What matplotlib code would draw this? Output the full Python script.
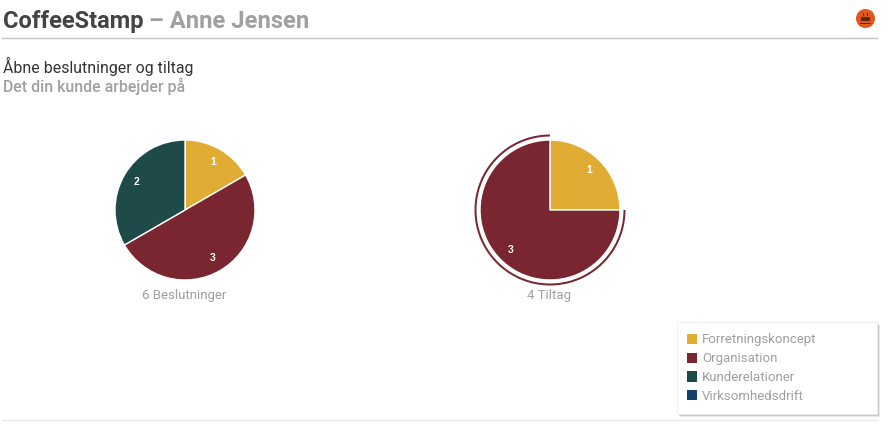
import math
import matplotlib
matplotlib.use("Agg")
import matplotlib.pyplot as plt
from matplotlib.patches import Rectangle, Circle, Wedge
from matplotlib.lines import Line2D

W, H = 888, 426
FONT = "Roboto"
plt.rcParams["font.family"] = [FONT, "DejaVu Sans"]

categories = ["Forretningskoncept", "Organisation", "Kunderelationer", "Virksomhedsdrift"]
colors = ["#E0AC33", "#7A2630", "#1E4A4A", "#17406F"]

left_values = [1, 3, 2]
left_colors = [colors[0], colors[1], colors[2]]
left_caption = "6 Beslutninger"

right_values = [1, 3]
right_colors = [colors[0], colors[1]]
right_caption = "4 Tiltag"

title_dark = "CoffeeStamp"
title_grey = " – Anne Jensen"
subtitle = "Åbne beslutninger og tiltag"
subtitle2 = "Det din kunde arbejder på"

DARK = "#444444"
GREY = "#A0A0A0"

fig = plt.figure(figsize=(W / 100, H / 100), dpi=100, facecolor="white")

bg = fig.add_axes([0, 0, 1, 1])
bg.set_xlim(0, W)
bg.set_ylim(H, 0)
bg.axis("off")

# header
t1 = bg.text(3, 21.5, title_dark, fontsize=17, fontweight="bold", color=DARK, va="center", ha="left")
fig.canvas.draw()
bb = t1.get_window_extent()
bg.text(bb.x1 - 1, 21.5, title_grey, fontsize=17.1, fontweight="bold", color=GREY, va="center", ha="left")
bg.add_line(Line2D([2, 877], [38, 38], color="#C4C4C4", lw=1))
bg.add_line(Line2D([2, 877], [420, 420], color="#E8E8E8", lw=1))
bg.text(3, 66, subtitle, fontsize=11.4, color="#333333", va="center", ha="left")
bg.text(3, 86, subtitle2, fontsize=11.4, fontweight="medium", color=GREY, va="center", ha="left")

# icon
bg.add_patch(Circle((865.5, 18.5), 9.5, fc="#E0581C", ec="none"))
bg.add_patch(Rectangle((861, 17), 9, 4, fc="#5A2A14", ec="none"))
bg.add_patch(Rectangle((860, 23), 11, 1.2, fc="#5A2A14", ec="none"))
bg.add_patch(Rectangle((863, 12.5), 1, 3, fc="#5A2A14", ec="none"))
bg.add_patch(Rectangle((867, 12.5), 1, 3, fc="#5A2A14", ec="none"))


def draw_pie(cx, cy, values, cols):
    r = 70.0
    box = 2.5 * r
    ax = fig.add_axes([(cx - box / 2) / W, 1 - (cy + box / 2) / H, box / W, box / H])
    ax.patch.set_alpha(0)
    wedges, _ = ax.pie(values, colors=cols, startangle=90, counterclock=False,
                       wedgeprops=dict(edgecolor="white", linewidth=1))
    ax.set_xlim(-1.25, 1.25)
    ax.set_ylim(-1.25, 1.25)
    return ax, wedges


def labels(ax, wedges, values, dist):
    for w, v in zip(wedges, values):
        a = math.radians((w.theta1 + w.theta2) / 2)
        ax.text(dist * math.cos(a), dist * math.sin(a), str(v), color="white",
                fontsize=7.5, fontweight="bold", family="Liberation Sans",
                ha="center", va="center")


ax1, w1 = draw_pie(185, 210, left_values, left_colors)
labels(ax1, w1, left_values, 0.8)
ax2, w2 = draw_pie(550, 210, right_values, right_colors)
labels(ax2, w2, right_values, 0.8)

# highlighted slice outer ring
hw = w2[1]
ax2.add_patch(Wedge((0, 0), 75.5 / 70, hw.theta1, hw.theta2, width=2.0 / 70,
                    fc=colors[1], ec="none", clip_on=False))

bg.text(184, 295, left_caption, fontsize=9.5, color=GREY, ha="center", va="center")
bg.text(548.5, 295, right_caption, fontsize=9.5, color=GREY, ha="center", va="center")

# legend
for off, a in [(3, 0.12), (2, 0.22), (1, 0.35)]:
    bg.add_patch(Rectangle((677 + off, 322 + off), 200, 92, fc="#555555", ec="none", alpha=a))
bg.add_patch(Rectangle((677, 322), 200, 92, fc="white", ec="#EDEDED", lw=0.6, zorder=3))
handles = [Rectangle((0, 0), 1, 1, fc=c, ec="none") for c in colors]
leg = fig.legend(handles, categories, loc="upper left",
                 bbox_to_anchor=(686.5 / W, 1 - 333.5 / H), frameon=False,
                 fontsize=9.5, labelcolor=GREY, handlelength=0.8, handleheight=0.8,
                 handletextpad=0.36, labelspacing=0.44, borderpad=0, borderaxespad=0)
leg.set_zorder(10)

fig.savefig("out.png", dpi=100, facecolor="white")
